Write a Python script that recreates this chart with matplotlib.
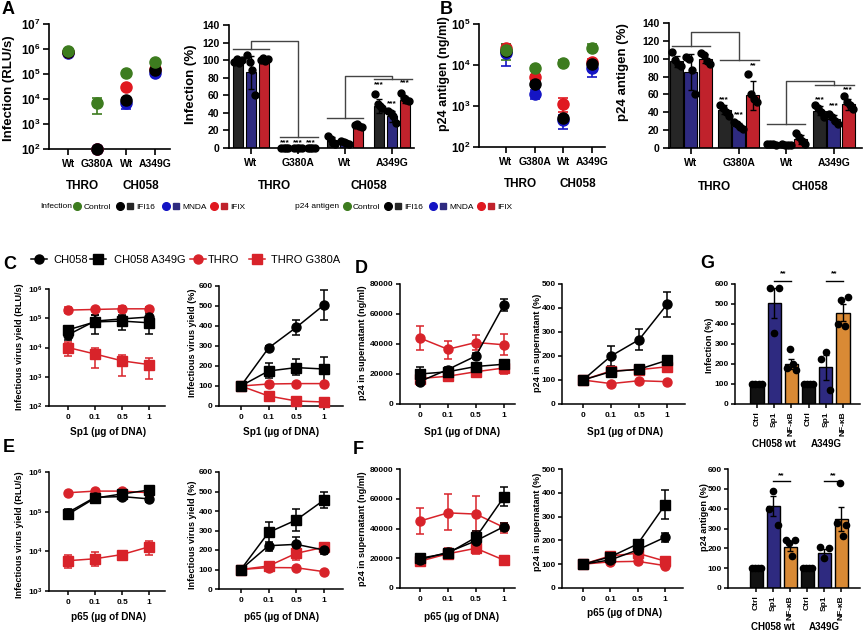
import numpy as np
import matplotlib
matplotlib.use('Agg')
import matplotlib.pyplot as plt
from matplotlib.lines import Line2D
from matplotlib.legend_handler import HandlerTuple

# ---------------- data ----------------
strain_ticks = ['Wt', 'G380A', 'Wt', 'A349G']
strain_groups = ['THRO', 'CH058']
dose_ticks = ['0', '0.1', '0.5', '1']
g_ticks = ['Ctrl', 'Sp1', 'NF-κB', 'Ctrl', 'Sp1', 'NF-κB']
g_groups = ['CH058 wt', 'A349G']
legend_ab = ['Control', 'IFI16', 'MNDA', 'IFIX']
legend_c = ['CH058', 'CH058 A349G', 'THRO', 'THRO G380A']

# A left: Infection (RLU/s)  [value, low, high]
A_rlu_ctrl = [8.0e5, 7.0e3, 1.1e5, 3.0e5]
A_rlu_ctrl_lo = [7.2e5, 2.5e3, 1.0e5, 2.7e5]
A_rlu_ctrl_hi = [8.8e5, 1.1e4, 1.2e5, 3.3e5]
A_rlu_ifi16 = [7.5e5, 1.0e2, 9.5e3, 1.4e5]
A_rlu_ifi16_lo = [7.0e5, 1.0e2, 7.5e3, 1.3e5]
A_rlu_ifi16_hi = [8.0e5, 1.0e2, 1.1e4, 1.5e5]
A_rlu_mnda = [6.8e5, 1.0e2, 7.0e3, 1.1e5]
A_rlu_mnda_lo = [6.2e5, 1.0e2, 4.0e3, 1.0e5]
A_rlu_mnda_hi = [7.4e5, 1.0e2, 9.0e3, 1.2e5]
A_rlu_ifix = [7.5e5, 1.0e2, 3.0e4, 1.6e5]
A_rlu_ifix_lo = [7.0e5, 1.0e2, 2.7e4, 1.5e5]
A_rlu_ifix_hi = [8.0e5, 1.0e2, 3.3e4, 1.7e5]

# A right: Infection (%)
A_pct_ifi16 = [100, 0, 9, 48]
A_pct_ifi16_sd = [2, 0, 4, 8]
A_pct_mnda = [86, 0, 7, 36]
A_pct_mnda_sd = [19, 0, 1.5, 6]
A_pct_ifix = [100, 0, 25, 55]
A_pct_ifix_sd = [1.5, 0, 1.5, 4]
A_dots_ifi16 = [[98, 101, 97, 100], [0, 0, 0, 0], [14, 10, 6, 4], [61, 50, 48, 45]]
A_dots_mnda = [[106, 98, 89, 60], [0, 0, 0, 0], [8, 7, 6, 5], [42, 40, 36, 28]]
A_dots_ifix = [[100, 102, 99, 101], [0, 0, 0, 0], [26, 27, 25, 24], [63, 57, 55, 53]]

# B left: p24 antigen (ng/ml)
B_ng_ctrl = [2.3e4, 8.5e3, 1.15e4, 2.6e4]
B_ng_ctrl_lo = [1.3e4, 7.5e3, 1.0e4, 2.2e4]
B_ng_ctrl_hi = [3.3e4, 9.5e3, 1.3e4, 3.3e4]
B_ng_ifi16 = [2.2e4, 3.5e3, 5.0e2, 1.05e4]
B_ng_ifi16_lo = [1.9e4, 3.0e3, 4.3e2, 9.0e3]
B_ng_ifi16_hi = [2.5e4, 4.0e3, 5.7e2, 1.2e4]
B_ng_mnda = [2.0e4, 2.0e3, 4.5e2, 8.5e3]
B_ng_mnda_lo = [9.5e3, 1.5e3, 2.7e2, 5.0e3]
B_ng_mnda_hi = [3.0e4, 2.5e3, 6.0e2, 1.1e4]
B_ng_ifix = [2.6e4, 5.0e3, 1.1e3, 1.2e4]
B_ng_ifix_lo = [2.2e4, 4.3e3, 7.0e2, 1.0e4]
B_ng_ifix_hi = [3.3e4, 5.8e3, 1.6e3, 1.4e4]

# B right: p24 antigen (%)
B_pct_ifi16 = [97, 43, 4, 42]
B_pct_ifi16_sd = [6, 5, 1, 5]
B_pct_mnda = [85, 25, 3, 33]
B_pct_mnda_sd = [20, 3, 0.5, 4]
B_pct_ifix = [100, 59, 10, 49]
B_pct_ifix_sd = [5, 16, 5, 6]
B_dots_ifi16 = [[107, 99, 94, 92], [48, 45, 40, 36], [5, 4, 4, 3], [48, 45, 40, 35]]
B_dots_mnda = [[102, 100, 87, 60], [29, 27, 24, 21], [4, 3, 3, 3], [38, 35, 30, 27]]
B_dots_ifix = [[106, 104, 97, 94], [83, 60, 55, 52], [17, 12, 8, 5], [58, 52, 48, 44]]

# C: Sp1 titration, infectious virus yield (RLU/s)
C_rlu_ch058 = [2.7e4, 8.0e4, 9.5e4, 1.1e5]
C_rlu_ch058_lo = [1.8e4, 5.0e4, 6.0e4, 7.0e4]
C_rlu_ch058_hi = [4.0e4, 1.3e5, 1.3e5, 1.5e5]
C_rlu_a349g = [4.0e4, 7.5e4, 8.0e4, 7.0e4]
C_rlu_a349g_lo = [3.0e4, 3.0e4, 4.0e4, 2.8e4]
C_rlu_a349g_hi = [5.0e4, 1.3e5, 1.2e5, 1.2e5]
C_rlu_thro = [1.9e5, 2.0e5, 2.1e5, 2.1e5]
C_rlu_thro_lo = [1.5e5, 1.8e5, 1.6e5, 1.8e5]
C_rlu_thro_hi = [2.5e5, 2.2e5, 2.6e5, 2.4e5]
C_rlu_g380a = [1.0e4, 6.0e3, 3.5e3, 2.6e3]
C_rlu_g380a_lo = [5.0e3, 2.0e3, 1.1e3, 8.5e2]
C_rlu_g380a_hi = [1.5e4, 1.0e4, 5.5e3, 4.5e3]

# C: infectious virus yield (%)
C_pct_ch058 = [100, 290, 393, 505]
C_pct_ch058_lo = [100, 280, 355, 430]
C_pct_ch058_hi = [100, 300, 430, 580]
C_pct_a349g = [100, 175, 192, 185]
C_pct_a349g_lo = [100, 138, 155, 117]
C_pct_a349g_hi = [100, 213, 235, 243]
C_pct_thro = [100, 110, 112, 112]
C_pct_g380a = [100, 50, 25, 20]

# D: Sp1 titration, p24 in supernatant (ng/ml)
D_ng_ch058 = [15000, 23000, 32000, 66000]
D_ng_ch058_lo = [13000, 21000, 30000, 62000]
D_ng_ch058_hi = [17000, 25000, 34000, 70000]
D_ng_a349g = [20000, 21500, 25000, 26500]
D_ng_a349g_lo = [16000, 19500, 23000, 24500]
D_ng_a349g_hi = [24500, 23500, 27000, 28500]
D_ng_thro = [44000, 36500, 41000, 39500]
D_ng_thro_lo = [36000, 30000, 36000, 33000]
D_ng_thro_hi = [52000, 42000, 46000, 47000]
D_ng_g380a = [17000, 18500, 21500, 24000]
D_ng_g380a_lo = [13000, 17000, 19000, 20000]
D_ng_g380a_hi = [21000, 20000, 24000, 28000]

# D: p24 in supernatant (%)
D_pct_ch058 = [100, 200, 268, 415]
D_pct_ch058_lo = [100, 160, 225, 362]
D_pct_ch058_hi = [100, 240, 313, 468]
D_pct_a349g = [100, 135, 145, 182]
D_pct_a349g_lo = [100, 127, 137, 174]
D_pct_a349g_hi = [100, 143, 153, 190]
D_pct_thro = [100, 85, 97, 93]
D_pct_g380a = [100, 138, 143, 155]
D_pct_g380a_lo = [100, 130, 135, 147]
D_pct_g380a_hi = [100, 146, 151, 163]

# E: p65 titration (RLU/s)
E_rlu_ch058 = [9.5e4, 2.3e5, 2.4e5, 2.1e5]
E_rlu_ch058_lo = [8.0e4, 1.9e5, 2.1e5, 1.8e5]
E_rlu_ch058_hi = [1.2e5, 2.6e5, 2.7e5, 2.4e5]
E_rlu_a349g = [8.5e4, 2.2e5, 2.8e5, 3.5e5]
E_rlu_a349g_lo = [7.0e4, 1.9e5, 2.4e5, 3.0e5]
E_rlu_a349g_hi = [1.0e5, 2.5e5, 3.2e5, 4.0e5]
E_rlu_thro = [3.0e5, 3.3e5, 3.3e5, 3.0e5]
E_rlu_g380a = [5.8e3, 6.5e3, 8.3e3, 1.3e4]
E_rlu_g380a_lo = [3.8e3, 4.2e3, 6.5e3, 8.0e3]
E_rlu_g380a_hi = [8.0e3, 9.5e3, 1.0e4, 1.8e4]

# E: infectious virus yield (%)
E_pct_ch058 = [100, 222, 229, 200]
E_pct_ch058_lo = [100, 196, 191, 180]
E_pct_ch058_hi = [100, 243, 268, 225]
E_pct_a349g = [100, 290, 354, 456]
E_pct_a349g_lo = [100, 230, 299, 414]
E_pct_a349g_hi = [100, 345, 409, 499]
E_pct_thro = [100, 110, 109, 89]
E_pct_g380a = [100, 118, 183, 214]
E_pct_g380a_lo = [100, 110, 150, 195]
E_pct_g380a_hi = [100, 126, 208, 235]

# F: p65 titration, p24 (ng/ml)
F_ng_ch058 = [19000, 24000, 31700, 41200]
F_ng_ch058_lo = [17000, 22000, 28000, 38000]
F_ng_ch058_hi = [21000, 26000, 36000, 44000]
F_ng_a349g = [20000, 23300, 34000, 61000]
F_ng_a349g_lo = [17000, 21000, 30000, 55000]
F_ng_a349g_hi = [23000, 26000, 38000, 68000]
F_ng_thro = [45000, 50500, 49700, 40800]
F_ng_thro_lo = [36000, 39000, 38000, 37000]
F_ng_thro_hi = [54000, 63000, 62000, 44000]
F_ng_g380a = [18000, 23000, 26700, 18800]
F_ng_g380a_lo = [16000, 20000, 23000, 17500]
F_ng_g380a_hi = [20000, 27000, 29000, 20000]

# F: p24 (%)
F_pct_ch058 = [100, 118, 160, 213]
F_pct_ch058_lo = [100, 110, 150, 195]
F_pct_ch058_hi = [100, 126, 170, 230]
F_pct_a349g = [100, 131, 185, 349]
F_pct_a349g_lo = [100, 120, 170, 290]
F_pct_a349g_hi = [100, 142, 200, 410]
F_pct_thro = [100, 110, 112, 94]
F_pct_thro_lo = [100, 100, 103, 86]
F_pct_thro_hi = [100, 120, 121, 102]
F_pct_g380a = [100, 135, 146, 113]
F_pct_g380a_lo = [100, 125, 138, 106]
F_pct_g380a_hi = [100, 145, 154, 120]

# G
G_inf_mean = [100, 505, 200, 100, 183, 457]
G_inf_sem = [0, 75, 25, 0, 62, 43]
G_inf_dots = [[100, 100, 100, 100], [580, 355, 580], [180, 275, 200, 170],
              [100, 100, 100, 100], [225, 260, 70], [400, 520, 390, 535]]
G_p24_mean = [100, 414, 208, 100, 175, 348]
G_p24_sem = [0, 52, 20, 0, 20, 62]
G_p24_dots = [[100, 100, 100, 100], [398, 490, 318], [240, 225, 160, 240],
              [100, 100, 100, 100], [205, 150, 200], [330, 530, 260, 320]]

# ---------------- style ----------------
FAM = 'Liberation Sans'
plt.rcParams['font.family'] = [FAM, 'DejaVu Sans']
plt.rcParams['font.weight'] = 'bold'
plt.rcParams['mathtext.fontset'] = 'custom'
plt.rcParams['mathtext.rm'] = FAM
plt.rcParams['mathtext.bf'] = FAM + ':bold'
plt.rcParams['axes.unicode_minus'] = False

GREEN = '#3d7c1f'
BLUE = '#1414c4'
RED = '#e01820'
BAR_BLK = '#262626'
BAR_PUR = '#2e2a80'
BAR_RED = '#c0222c'
ORANGE = '#d98a35'
LRED = '#d8232a'

W, H = 863, 633
fig = plt.figure(figsize=(W / 100, H / 100), dpi=100)


def axpx(l, t, r, b):
    return fig.add_axes([l / W, 1 - b / H, (r - l) / W, (b - t) / H])


def ftext(x, y, s, **kw):
    fig.text(x / W, 1 - y / H, s, **kw)


def style(ax, fs=7.5, lw=1.2, tl=4, pad=3):
    for s in ['top', 'right']:
        ax.spines[s].set_visible(False)
    for s in ['left', 'bottom']:
        ax.spines[s].set_linewidth(lw)
    ax.tick_params(direction='out', length=tl, width=lw, labelsize=fs, pad=pad)
    ax.minorticks_off()


def pow_labels(exps):
    return [r'$\mathbf{10^{%d}}$' % e for e in exps]


def group_labels(ax, y, fs=8.5):
    tr = ax.get_xaxis_transform()
    ax.text(0.5, y, strain_groups[0], transform=tr, ha='center', va='center', fontsize=fs)
    ax.text(2.5, y, strain_groups[1], transform=tr, ha='center', va='center', fontsize=fs)


def log_scatter(ax, series, ylim, exps, xlim):
    x = np.arange(4)
    ax.set_yscale('log')
    for vals, lo, hi, col in series:
        v, l, h = np.array(vals), np.array(lo), np.array(hi)
        ax.errorbar(x, v, yerr=[v - l, h - v], fmt='none', ecolor=col,
                    elinewidth=1.2, capsize=3.5, capthick=1.2, zorder=2, clip_on=False)
        ax.plot(x, v, 'o', color=col, ms=8, clip_on=False, zorder=3)
    ax.set_ylim(*ylim)
    ax.set_xlim(*xlim)
    ax.set_yticks([10.0 ** e for e in exps])
    ax.set_yticklabels(pow_labels(exps))
    ax.set_xticks(x)
    ax.set_xticklabels(strain_ticks)
    style(ax, fs=7.5, pad=3)
    ax.tick_params(axis='y', labelsize=8.5, pad=2)
    ax.minorticks_off()
    group_labels(ax, -0.30)


def bar3(ax, means, sds, dots, colors, width, off, xlim):
    x = np.arange(4)
    for j in range(3):
        xs = x + (j - 1) * off
        ax.bar(xs, means[j], width, color=colors[j], edgecolor='black', linewidth=0.8, zorder=2)
        ax.errorbar(xs, means[j], yerr=sds[j], fmt='none', ecolor='black',
                    elinewidth=1, capsize=2.5, capthick=1, zorder=3)
        for i in range(4):
            d = dots[j][i]
            ax.plot(xs[i] + np.linspace(-width * 0.35, width * 0.35, len(d)), d, 'o',
                    color='black', ms=5, zorder=4, clip_on=False)
    ax.set_ylim(0, 140)
    ax.set_xlim(*xlim)
    ax.set_yticks(np.arange(0, 141, 20))
    ax.set_xticks(x)
    ax.set_xticklabels(strain_ticks)
    style(ax, fs=7.5, pad=3)
    group_labels(ax, -0.31)


def bracket(ax, xl0, xl1, yl, xr0, xr1, yr, ytop, xm_l, xm_r):
    kw = dict(color='#444444', lw=1, clip_on=False, zorder=5)
    ax.plot([xl0, xl1], [yl, yl], **kw)
    ax.plot([xr0, xr1], [yr, yr], **kw)
    ax.plot([xm_l, xm_l, xm_r, xm_r], [yl, ytop, ytop, yr], **kw)


def stars(ax, x, y, s):
    ax.text(x, y, s, ha='center', va='center', fontsize=6, zorder=6)


def line_panel(ax, series, xlim, ylim, log=False, exps=None, yticks=None, fs=6):
    x = np.arange(4)
    if log:
        ax.set_yscale('log')
    for vals, lo, hi, col, mk in series:
        v, l, h = np.array(vals, float), np.array(lo, float), np.array(hi, float)
        ax.errorbar(x, v, yerr=[v - l, h - v], fmt='none', ecolor=col,
                    elinewidth=1.1, capsize=3, capthick=1.1, zorder=2)
        ax.plot(x, v, '-', marker=mk, color=col, ms=6.5, lw=1.1, clip_on=False, zorder=3)
    ax.set_xlim(*xlim)
    ax.set_ylim(*ylim)
    ax.set_xticks(x)
    ax.set_xticklabels(dose_ticks)
    if log:
        ax.set_yticks([10.0 ** e for e in exps])
        ax.set_yticklabels(pow_labels(exps))
    else:
        ax.set_yticks(yticks)
    style(ax, fs=fs, lw=1.1, tl=3, pad=1.5)
    ax.tick_params(axis='x', pad=3)
    ax.minorticks_off()


def g_panel(ax, means, sem, dots, xlim):
    x = np.arange(6)
    cols = ['#111111', BAR_PUR, ORANGE, '#111111', BAR_PUR, ORANGE]
    ax.bar(x, means, 0.76, color=cols, edgecolor='black', linewidth=1, zorder=2)
    ax.errorbar(x, means, yerr=sem, fmt='none', ecolor='black', elinewidth=1,
                capsize=2.5, capthick=1, zorder=3)
    for i, d in enumerate(dots):
        ax.plot(x[i] + np.linspace(-0.27, 0.27, len(d)), d, 'o', color='black', ms=4.5,
                zorder=4, clip_on=False)
    ax.set_ylim(0, 600)
    ax.set_xlim(*xlim)
    ax.set_yticks(np.arange(0, 601, 100))
    ax.set_xticks(x)
    ax.set_xticklabels(g_ticks, rotation=90)
    style(ax, fs=6, lw=1.1, tl=3, pad=1.5)
    ax.tick_params(axis='x', pad=2.5)


def leg_entry(handle, label, cx, cy, hl_px, text_x, fs):
    fs_px = fs * 100 / 72
    fig.legend([handle], [label], loc='center left',
               bbox_to_anchor=((cx - hl_px / 2) / W, 1 - cy / H),
               frameon=False, borderpad=0, borderaxespad=0,
               handlelength=hl_px / fs_px,
               handletextpad=(text_x - (cx + hl_px / 2)) / fs_px,
               prop={'weight': 'normal', 'size': fs},
               handler_map={tuple: HandlerTuple(ndivide=None, pad=0.0)})


# ---------------- Panel A ----------------
axA1 = axpx(49, 24, 170, 149)
log_scatter(axA1, [
    (A_rlu_mnda, A_rlu_mnda_lo, A_rlu_mnda_hi, BLUE),
    (A_rlu_ifix, A_rlu_ifix_lo, A_rlu_ifix_hi, RED),
    (A_rlu_ifi16, A_rlu_ifi16_lo, A_rlu_ifi16_hi, 'black'),
    (A_rlu_ctrl, A_rlu_ctrl_lo, A_rlu_ctrl_hi, GREEN)],
    (1e2, 1e7), range(2, 8), (-0.66, 3.5))

axA2 = axpx(229, 25, 414, 148)
bar3(axA2, [A_pct_ifi16, A_pct_mnda, A_pct_ifix],
     [A_pct_ifi16_sd, A_pct_mnda_sd, A_pct_ifix_sd],
     [A_dots_ifi16, A_dots_mnda, A_dots_ifix],
     [BAR_BLK, BAR_PUR, BAR_RED], 0.22, 0.28, (-0.47, 3.47))
bracket(axA2, -0.38, 0.38, 113, 0.62, 1.42, 13, 122, 0.0, 1.0)
bracket(axA2, 1.62, 2.38, 34, 2.62, 3.42, 78, 82, 2.0, 3.0)
for xo in [-0.28, 0, 0.28]:
    stars(axA2, 1 + xo, 6, '***')
stars(axA2, 3 - 0.28, 72, '***')
stars(axA2, 3.0, 50, '***')
stars(axA2, 3 + 0.28, 74, '***')

# ---------------- Panel B ----------------
axB1 = axpx(479, 24, 605, 147)
log_scatter(axB1, [
    (B_ng_mnda, B_ng_mnda_lo, B_ng_mnda_hi, BLUE),
    (B_ng_ifix, B_ng_ifix_lo, B_ng_ifix_hi, RED),
    (B_ng_ifi16, B_ng_ifi16_lo, B_ng_ifi16_hi, 'black'),
    (B_ng_ctrl, B_ng_ctrl_lo, B_ng_ctrl_hi, GREEN)],
    (1e2, 1e5), range(2, 6), (-0.94, 3.45))

axB2 = axpx(669, 23, 862, 148)
bar3(axB2, [B_pct_ifi16, B_pct_mnda, B_pct_ifix],
     [B_pct_ifi16_sd, B_pct_mnda_sd, B_pct_ifix_sd],
     [B_dots_ifi16, B_dots_mnda, B_dots_ifix],
     [BAR_BLK, BAR_PUR, BAR_RED], 0.27, 0.30, (-0.46, 3.59))
bracket(axB2, -0.4, 0.4, 114, 0.6, 1.42, 99, 130, 0.0, 1.0)
bracket(axB2, 1.6, 2.4, 26.5, 2.6, 3.42, 70.5, 75, 2.0, 3.0)
stars(axB2, 1 - 0.30, 54, '***')
stars(axB2, 1.0, 37, '***')
stars(axB2, 1 + 0.30, 92, '**')
stars(axB2, 3 - 0.30, 54, '***')
stars(axB2, 3.0, 47, '***')
stars(axB2, 3 + 0.30, 65, '***')

# A / B legends
def pair(c1, c2):
    return (Line2D([], [], ls='', marker='o', color=c1, ms=5.5),
            Line2D([], [], ls='', marker='s', color=c2, ms=5))

hAB = [Line2D([], [], ls='', marker='o', color=GREEN, ms=5.5),
       pair('black', BAR_BLK), pair(BLUE, BAR_PUR), pair(RED, BAR_RED)]
LFS = 6.0
ftext(40, 207, 'Infection', fontsize=LFS, fontweight='normal', ha='left', va='center')
ftext(295, 207, 'p24 antigen', fontsize=LFS, fontweight='normal', ha='left', va='center')
for h, lab, cx, hl, tx in zip(hAB, legend_ab, [77, 125, 171, 219], [8, 20, 20, 20],
                              [84, 136, 182, 230]):
    leg_entry(h, lab, cx, 207, hl, tx, LFS)
for h, lab, cx, hl, tx in zip(hAB, legend_ab, [347, 393, 438, 486], [8, 20, 20, 20],
                              [353, 404, 449, 497]):
    leg_entry(h, lab, cx, 207, hl, tx, LFS)

# ---------------- Panel C ----------------
axC1 = axpx(49, 289, 165, 406)
line_panel(axC1, [
    (C_rlu_thro, C_rlu_thro_lo, C_rlu_thro_hi, LRED, 'o'),
    (C_rlu_g380a, C_rlu_g380a_lo, C_rlu_g380a_hi, LRED, 's'),
    (C_rlu_ch058, C_rlu_ch058_lo, C_rlu_ch058_hi, 'black', 'o'),
    (C_rlu_a349g, C_rlu_a349g_lo, C_rlu_a349g_hi, 'black', 's')],
    (-0.70, 3.59), (1e2, 1e6), log=True, exps=range(2, 7))

axC2 = axpx(219, 286, 343, 406)
line_panel(axC2, [
    (C_pct_thro, C_pct_thro, C_pct_thro, LRED, 'o'),
    (C_pct_g380a, C_pct_g380a, C_pct_g380a, LRED, 's'),
    (C_pct_ch058, C_pct_ch058_lo, C_pct_ch058_hi, 'black', 'o'),
    (C_pct_a349g, C_pct_a349g_lo, C_pct_a349g_hi, 'black', 's')],
    (-0.79, 3.69), (0, 600), yticks=np.arange(0, 601, 100))

# ---------------- Panel D ----------------
axD1 = axpx(400, 284, 515, 404)
line_panel(axD1, [
    (D_ng_thro, D_ng_thro_lo, D_ng_thro_hi, LRED, 'o'),
    (D_ng_g380a, D_ng_g380a_lo, D_ng_g380a_hi, LRED, 's'),
    (D_ng_ch058, D_ng_ch058_lo, D_ng_ch058_hi, 'black', 'o'),
    (D_ng_a349g, D_ng_a349g_lo, D_ng_a349g_hi, 'black', 's')],
    (-0.71, 3.4), (0, 80000), yticks=np.arange(0, 80001, 20000))

axD2 = axpx(562, 284, 685, 404)
line_panel(axD2, [
    (D_pct_thro, D_pct_thro, D_pct_thro, LRED, 'o'),
    (D_pct_g380a, D_pct_g380a_lo, D_pct_g380a_hi, LRED, 's'),
    (D_pct_ch058, D_pct_ch058_lo, D_pct_ch058_hi, 'black', 'o'),
    (D_pct_a349g, D_pct_a349g_lo, D_pct_a349g_hi, 'black', 's')],
    (-0.75, 3.64), (0, 500), yticks=np.arange(0, 501, 100))

# ---------------- Panel E ----------------
axE1 = axpx(49, 472, 165, 591)
line_panel(axE1, [
    (E_rlu_thro, E_rlu_thro, E_rlu_thro, LRED, 'o'),
    (E_rlu_g380a, E_rlu_g380a_lo, E_rlu_g380a_hi, LRED, 's'),
    (E_rlu_ch058, E_rlu_ch058_lo, E_rlu_ch058_hi, 'black', 'o'),
    (E_rlu_a349g, E_rlu_a349g_lo, E_rlu_a349g_hi, 'black', 's')],
    (-0.70, 3.59), (1e3, 1e6), log=True, exps=range(3, 7))

axE2 = axpx(219, 472, 343, 589)
line_panel(axE2, [
    (E_pct_thro, E_pct_thro, E_pct_thro, LRED, 'o'),
    (E_pct_g380a, E_pct_g380a_lo, E_pct_g380a_hi, LRED, 's'),
    (E_pct_ch058, E_pct_ch058_lo, E_pct_ch058_hi, 'black', 'o'),
    (E_pct_a349g, E_pct_a349g_lo, E_pct_a349g_hi, 'black', 's')],
    (-0.79, 3.69), (0, 600), yticks=np.arange(0, 601, 100))

# ---------------- Panel F ----------------
axF1 = axpx(400, 469, 515, 588)
line_panel(axF1, [
    (F_ng_thro, F_ng_thro_lo, F_ng_thro_hi, LRED, 'o'),
    (F_ng_g380a, F_ng_g380a_lo, F_ng_g380a_hi, LRED, 's'),
    (F_ng_ch058, F_ng_ch058_lo, F_ng_ch058_hi, 'black', 'o'),
    (F_ng_a349g, F_ng_a349g_lo, F_ng_a349g_hi, 'black', 's')],
    (-0.71, 3.4), (0, 80000), yticks=np.arange(0, 80001, 20000))

axF2 = axpx(562, 469, 683, 588)
line_panel(axF2, [
    (F_pct_thro, F_pct_thro_lo, F_pct_thro_hi, LRED, 'o'),
    (F_pct_g380a, F_pct_g380a_lo, F_pct_g380a_hi, LRED, 's'),
    (F_pct_ch058, F_pct_ch058_lo, F_pct_ch058_hi, 'black', 'o'),
    (F_pct_a349g, F_pct_a349g_lo, F_pct_a349g_hi, 'black', 's')],
    (-0.77, 3.66), (0, 500), yticks=np.arange(0, 501, 100))

# C legend
hC = [Line2D([], [], color='black', marker='o', ms=6.5, lw=1.1),
      Line2D([], [], color='black', marker='s', ms=6.5, lw=1.1),
      Line2D([], [], color=LRED, marker='o', ms=6.5, lw=1.1),
      Line2D([], [], color=LRED, marker='s', ms=6.5, lw=1.1)]
for h, lab, cx, tx in zip(hC, legend_c, [39, 98, 198, 257], [53, 114, 208, 271]):
    leg_entry(h, lab, cx, 260, 16, tx, 8)

# ---------------- Panel G ----------------
axG1 = axpx(735, 284, 860, 404)
g_panel(axG1, G_inf_mean, G_inf_sem, G_inf_dots, (-1.28, 5.99))
axG2 = axpx(728, 469, 860, 588)
g_panel(axG2, G_p24_mean, G_p24_sem, G_p24_dots, (-1.65, 6.1))
for ax, ysig, ytxt, ylab in [(axG1, 617, 650, -0.335), (axG2, 537, 565, -0.33)]:
    for a, b in [(1, 2), (4, 5)]:
        ax.plot([a, b], [ysig, ysig], color='black', lw=1, clip_on=False)
        ax.text((a + b) / 2, ytxt, '**', ha='center', va='center', fontsize=6)
    tr = ax.get_xaxis_transform()
    ax.text(1, ylab, g_groups[0], transform=tr, ha='center', va='center', fontsize=7)
    ax.text(4, ylab, g_groups[1], transform=tr, ha='center', va='center', fontsize=7)

# ---------------- axis titles ----------------
ylabs = [
    (9, 88, 'Infection (RLU/s)', 9.5),
    (191, 84, 'Infection (%)', 9.5),
    (444, 74, 'p24 antigen (ng/ml)', 9),
    (623, 72, 'p24 antigen (%)', 9.5),
    (19, 347, 'Infectious virus yield (RLU/s)', 6.6),
    (192, 343, 'Infectious virus yield (%)', 6.6),
    (362, 343, 'p24 in supernatant (ng/ml)', 6.6),
    (537, 343, 'p24 in supernatant (%)', 6.6),
    (709, 345, 'Infection (%)', 6.6),
    (19, 535, 'Infectious virus yield (RLU/s)', 6.6),
    (192, 535, 'Infectious virus yield (%)', 6.6),
    (362, 529, 'p24 in supernatant (ng/ml)', 6.6),
    (537, 522, 'p24 in supernatant (%)', 6.6),
    (704, 517, 'p24 antigen (%)', 6.6),
]
for x, y, s, fs in ylabs:
    ftext(x, y, s, rotation=90, ha='center', va='center', fontsize=fs)

xlabs = [
    (108, 432, 'Sp1 (µg of DNA)'), (281, 432, 'Sp1 (µg of DNA)'),
    (462, 432, 'Sp1 (µg of DNA)'), (625, 432, 'Sp1 (µg of DNA)'),
    (109, 617, 'p65 (µg of DNA)'), (282, 617, 'p65 (µg of DNA)'),
    (462, 617, 'p65 (µg of DNA)'), (625, 613, 'p65 (µg of DNA)'),
]
for x, y, s in xlabs:
    ftext(x, y, s, ha='center', va='center', fontsize=7.2)

for x, y, s in [(2, 10, 'A'), (440, 9, 'B'), (3, 265, 'C'), (355, 268, 'D'),
                (3, 447, 'E'), (353, 449, 'F'), (700, 264, 'G')]:
    ftext(x, y, s, ha='left', va='center', fontsize=13)

fig.savefig('out.png', dpi=100)
